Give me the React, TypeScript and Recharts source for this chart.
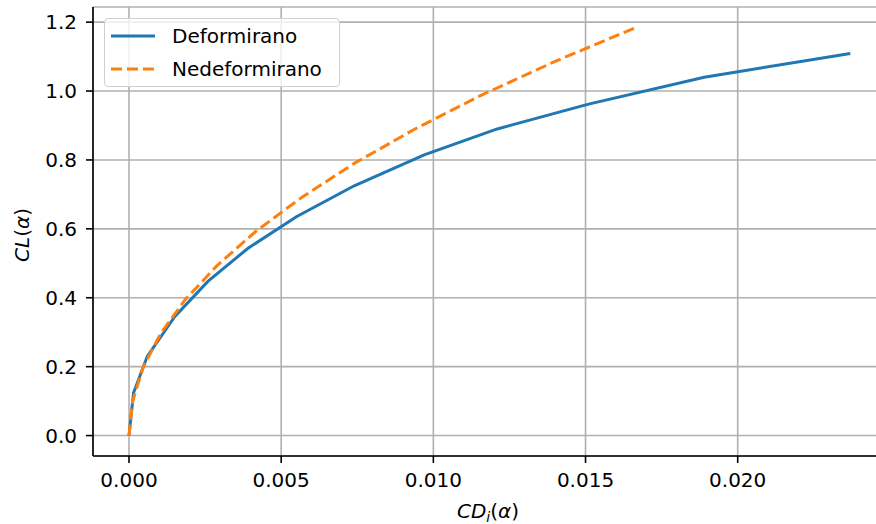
import { CartesianGrid, Line, LineChart, XAxis, YAxis } from "recharts";

// induced drag vs lift, deformed wing
const cdDeformed = [0, 0.00015, 0.0006, 0.0015, 0.0026, 0.0039, 0.0055, 0.0074, 0.0097, 0.0121, 0.0151, 0.0189, 0.0237];
const clDeformed = [0, 0.124, 0.23, 0.345, 0.448, 0.543, 0.635, 0.725, 0.815, 0.89, 0.962, 1.04, 1.109];

// undeformed wing
const cdRigid = [0, 0.000116, 0.000465, 0.00104, 0.00185, 0.0029, 0.00417, 0.00567, 0.0074, 0.00938, 0.01158, 0.014, 0.01667];
const clRigid = [0, 0.099, 0.198, 0.296, 0.395, 0.494, 0.593, 0.691, 0.79, 0.889, 0.988, 1.086, 1.185];

const xTicks = [0, 0.005, 0.01, 0.015, 0.02];
const yTicks = [0, 0.2, 0.4, 0.6, 0.8, 1.0, 1.2];

const BLUE = "#1f77b4";
const ORANGE = "#ff7f0e";
const FONT = '"DejaVu Sans", sans-serif';
const DASH = "11.1 4.8";

const deformed = cdDeformed.map((x, i) => ({ x, y: clDeformed[i] }));
const rigid = cdRigid.map((x, i) => ({ x, y: clRigid[i] }));

const tickStyle = { fill: "#000", fontSize: 20, fontFamily: FONT };

export default function App() {
  return (
    <div
      style={{
        position: "absolute",
        left: 0,
        top: 0,
        width: 876,
        height: 524,
        overflow: "hidden",
        background: "#fff",
        fontFamily: FONT,
      }}
    >
      <LineChart
        width={900}
        height={524}
        margin={{ top: 7, right: 15, bottom: 28, left: 13 }}
      >
        <CartesianGrid
          xAxisId="b"
          yAxisId="l"
          stroke="#b0b0b0"
          strokeWidth={1.6}
        />
        <XAxis
          xAxisId="b"
          type="number"
          dataKey="x"
          domain={[-0.001183, 0.02484]}
          ticks={xTicks}
          tickFormatter={(v: number) => v.toFixed(3)}
          allowDataOverflow
          height={40}
          tickSize={7}
          tickMargin={10}
          tick={tickStyle}
          stroke="#000"
          strokeWidth={1.6}
        />
        <XAxis
          xAxisId="t"
          orientation="top"
          type="number"
          domain={[-0.001183, 0.02484]}
          allowDataOverflow
          height={0}
          tick={false}
          tickLine={false}
          stroke="#000"
          strokeWidth={1.6}
        />
        <YAxis
          yAxisId="l"
          type="number"
          domain={[-0.0593, 1.2439]}
          ticks={yTicks}
          tickFormatter={(v: number) => v.toFixed(1)}
          allowDataOverflow
          width={80}
          tickSize={7}
          tickMargin={9}
          tick={tickStyle}
          stroke="#000"
          strokeWidth={1.6}
        />
        <YAxis
          yAxisId="r"
          orientation="right"
          type="number"
          domain={[-0.0593, 1.2439]}
          allowDataOverflow
          width={0}
          tick={false}
          tickLine={false}
          stroke="#000"
          strokeWidth={1.6}
        />
        <Line
          xAxisId="b"
          yAxisId="l"
          data={deformed}
          dataKey="y"
          type="linear"
          stroke={BLUE}
          strokeWidth={3}
          dot={false}
          isAnimationActive={false}
        />
        <Line
          xAxisId="b"
          yAxisId="l"
          data={rigid}
          dataKey="y"
          type="linear"
          stroke={ORANGE}
          strokeWidth={3}
          strokeDasharray={DASH}
          dot={false}
          isAnimationActive={false}
        />
      </LineChart>

      <LegendBox />

      <div
        style={{
          position: "absolute",
          left: 22,
          top: 235,
          transform: "translate(-50%, -50%) rotate(-90deg)",
          fontSize: 20,
          lineHeight: "20px",
          whiteSpace: "nowrap",
          color: "#000",
        }}
      >
        <i>CL</i>(<i>α</i>)
      </div>

      <div
        style={{
          position: "absolute",
          left: 488,
          top: 501,
          transform: "translateX(-50%)",
          fontSize: 20,
          lineHeight: "20px",
          whiteSpace: "nowrap",
          color: "#000",
        }}
      >
        <i>CD</i>
        <i style={{ fontSize: 14, position: "relative", top: 4 }}>i</i>(<i>α</i>)
      </div>
    </div>
  );
}

function LegendBox() {
  const rows = [
    { name: "Deformirano", color: BLUE, dash: undefined as string | undefined },
    { name: "Nedeformirano", color: ORANGE, dash: DASH },
  ];
  return (
    <div
      style={{
        position: "absolute",
        left: 104,
        top: 18,
        width: 236,
        height: 69,
        border: "1.5px solid #d0d0d0",
        borderRadius: 4,
        background: "rgba(255,255,255,0.8)",
        boxSizing: "border-box",
      }}
    >
      {rows.map((r, i) => (
        <div key={r.name}>
          <svg
            width={44}
            height={6}
            style={{ position: "absolute", left: 6, top: 13.5 + i * 33.3 }}
          >
            <line
              x1={0}
              y1={3}
              x2={44}
              y2={3}
              stroke={r.color}
              strokeWidth={3}
              strokeDasharray={r.dash}
            />
          </svg>
          <span
            style={{
              position: "absolute",
              left: 67,
              top: 6.5 + i * 33.3,
              fontSize: 20,
              lineHeight: "20px",
              whiteSpace: "nowrap",
              color: "#000",
            }}
          >
            {r.name}
          </span>
        </div>
      ))}
    </div>
  );
}
